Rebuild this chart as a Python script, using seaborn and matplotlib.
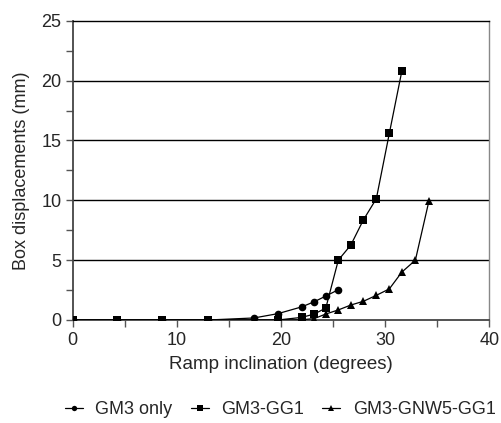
import pandas as pd
import seaborn as sns
import matplotlib.pyplot as plt
from matplotlib.ticker import MultipleLocator

# Data
angle_gm3 = [0, 4.3, 8.6, 13.0, 17.4, 19.7, 22.0, 23.2, 24.3, 25.5]
disp_gm3 = [0, 0, 0, 0, 0.17, 0.53, 1.1, 1.53, 2.0, 2.53]

angle_gg1 = [0, 4.3, 8.6, 13.0, 19.7, 22.0, 23.2, 24.3, 25.5, 26.7, 27.9, 29.15, 30.4, 31.6]
disp_gg1 = [0, 0, 0, 0, 0, 0.22, 0.5, 1.0, 5.0, 6.26, 8.35, 10.13, 15.6, 20.8]

angle_gnw = [0, 4.3, 8.6, 13.0, 19.7, 22.0, 23.2, 24.3, 25.5, 26.7, 27.9, 29.15, 30.4, 31.6, 32.9, 34.2]
disp_gnw = [0, 0, 0, 0, 0, 0.02, 0.12, 0.5, 0.84, 1.25, 1.56, 2.06, 2.6, 4.0, 5.0, 9.94]

series_names = ['GM3 only', 'GM3-GG1', 'GM3-GNW5-GG1']

df = pd.concat([
    pd.DataFrame({'angle': angle_gm3, 'disp': disp_gm3, 'series': series_names[0]}),
    pd.DataFrame({'angle': angle_gg1, 'disp': disp_gg1, 'series': series_names[1]}),
    pd.DataFrame({'angle': angle_gnw, 'disp': disp_gnw, 'series': series_names[2]}),
])

sns.set_style('white')
plt.rcParams['font.family'] = ['Liberation Sans', 'DejaVu Sans']

fig = plt.figure(figsize=(5.02, 4.23), dpi=100)
ax = fig.add_axes([0.1448, 0.2435, 0.83, 0.7075])

sns.lineplot(data=df, x='angle', y='disp', hue='series', style='series',
             hue_order=series_names, style_order=series_names,
             palette=['black'] * 3, markers={'GM3 only': 'o', 'GM3-GG1': 's', 'GM3-GNW5-GG1': '^'},
             dashes=False, sort=False, estimator=None, linewidth=0.9,
             markersize=5.5, markeredgewidth=0, ax=ax, zorder=3)

ax.set_xlim(0, 40)
ax.set_ylim(0, 25)
ax.xaxis.set_major_locator(MultipleLocator(10))
ax.xaxis.set_minor_locator(MultipleLocator(5))
ax.yaxis.set_major_locator(MultipleLocator(5))
ax.yaxis.set_minor_locator(MultipleLocator(2.5))
ax.tick_params(axis='both', which='both', direction='out', color='#555555', labelsize=13)
ax.tick_params(axis='both', which='both', length=5, width=1)
ax.tick_params(axis='x', which='both', bottom=True, pad=4)
ax.tick_params(axis='y', which='both', left=True, pad=3)

for y in [5, 10, 15, 20]:
    ax.axhline(y, color='black', linewidth=1, zorder=1)

for side in ['left', 'bottom']:
    ax.spines[side].set_color('#444444')
    ax.spines[side].set_linewidth(1.3)
ax.spines['top'].set_color('black')
ax.spines['top'].set_linewidth(1)
ax.spines['right'].set_color('#888888')
ax.spines['right'].set_linewidth(1)

ax.set_xlabel('Ramp inclination (degrees)', fontsize=13.5, labelpad=5)
ax.set_ylabel('Box displacements (mm)', fontsize=13, labelpad=8)

ax.legend(title=None, loc='center', bbox_to_anchor=(0.498, -0.30), ncol=3,
          frameon=False, fontsize=13, handlelength=1.0, handletextpad=0.7,
          columnspacing=1.0, markerscale=0.7, borderpad=0, borderaxespad=0)

plt.savefig('out.png', dpi=100)
